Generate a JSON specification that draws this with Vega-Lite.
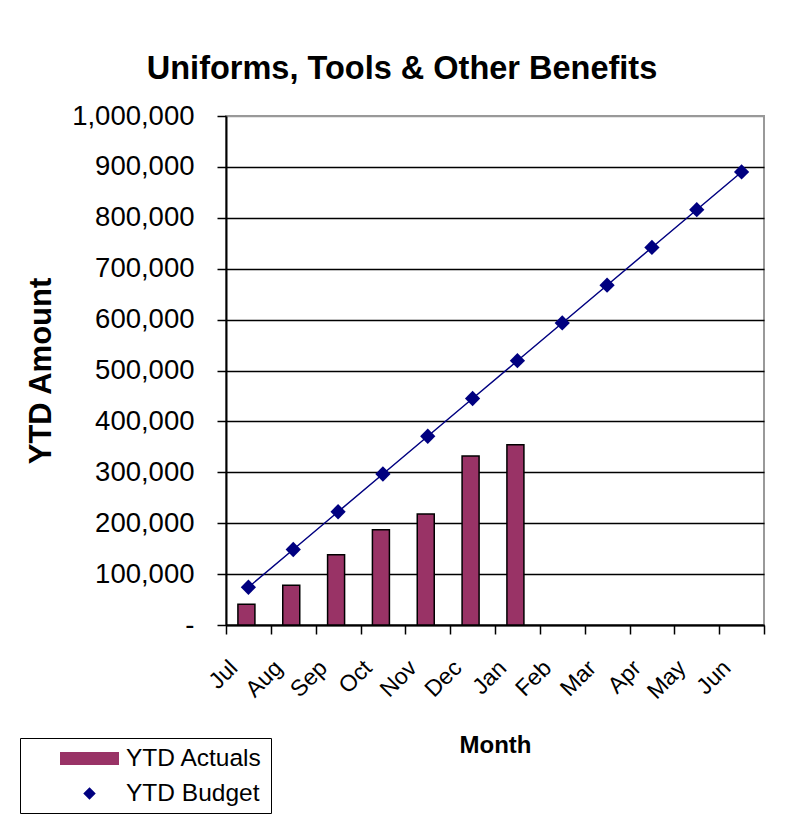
{
  "$schema": "https://vega.github.io/schema/vega-lite/v6.json",
  "width": 538,
  "height": 509,
  "autosize": "none",
  "padding": {"left": 226, "top": 116, "right": 21, "bottom": 194},
  "background": "white",
  "config": {
    "font": "Liberation Sans",
    "view": {"stroke": "#999999", "strokeWidth": 2},
    "axis": {"labelColor": "black", "titleColor": "black", "labelFont": "Liberation Sans", "titleFont": "Liberation Sans"},
    "legend": {
      "orient": "none",
      "legendX": -206,
      "legendY": 622,
      "strokeColor": "black",
      "fillColor": "white",
      "padding": 8,
      "symbolOffset": 49,
      "labelOffset": 24,
      "labelFontSize": 24.5,
      "labelFont": "Liberation Sans",
      "labelColor": "black",
      "rowPadding": 10,
      "symbolSize": 529,
      "symbolStrokeWidth": 1.5,
      "symbolOpacity": 1
    }
  },
  "title": {
    "text": "Uniforms, Tools & Other Benefits",
    "font": "Liberation Sans",
    "fontSize": 32.5,
    "fontWeight": "bold",
    "color": "black",
    "anchor": "middle",
    "frame": "group",
    "dx": -93,
    "offset": 17
  },
  "data": {
    "values": [
      {"month": "Jul", "actual": 41000, "budget": 74167},
      {"month": "Aug", "actual": 78000, "budget": 148333},
      {"month": "Sep", "actual": 138000, "budget": 222500},
      {"month": "Oct", "actual": 187000, "budget": 296667},
      {"month": "Nov", "actual": 218000, "budget": 370833},
      {"month": "Dec", "actual": 332000, "budget": 445000},
      {"month": "Jan", "actual": 354000, "budget": 519167},
      {"month": "Feb", "actual": null, "budget": 593333},
      {"month": "Mar", "actual": null, "budget": 667500},
      {"month": "Apr", "actual": null, "budget": 741667},
      {"month": "May", "actual": null, "budget": 815833},
      {"month": "Jun", "actual": null, "budget": 890000}
    ]
  },
  "encoding": {
    "x": {
      "field": "month",
      "type": "ordinal",
      "sort": ["Jul", "Aug", "Sep", "Oct", "Nov", "Dec", "Jan", "Feb", "Mar", "Apr", "May", "Jun"],
      "scale": {"paddingInner": 0, "paddingOuter": 0},
      "axis": {
        "title": "Month",
        "titleFontSize": 24,
        "titleFontWeight": "bold",
        "titlePadding": 30,
        "labelAngle": -45,
        "labelAlign": "right",
        "labelBaseline": "middle",
        "labelFontSize": 23,
        "labelPadding": 30,
        "labelOffset": -15,
        "tickBand": "extent",
        "tickSize": 9,
        "tickWidth": 1.5,
        "tickColor": "black",
        "domainColor": "black",
        "domainWidth": 2,
        "grid": false
      }
    }
  },
  "layer": [
    {
      "mark": {"type": "bar", "width": 17, "xOffset": -2, "stroke": "black", "strokeWidth": 1.5},
      "encoding": {
        "y": {
          "field": "actual",
          "type": "quantitative",
          "scale": {"domain": [0, 1000000]},
          "axis": {
            "title": "YTD Amount",
            "titleFontSize": 31,
            "titleFontWeight": "bold",
            "titlePadding": 14,
            "values": [0, 100000, 200000, 300000, 400000, 500000, 600000, 700000, 800000, 900000, 1000000],
            "labelExpr": "datum.value == 0 ? '-\u00a0\u00a0\u00a0\u00a0' : format(datum.value, ',')",
            "labelFontSize": 27.5,
            "labelPadding": 23,
            "tickSize": 9,
            "tickWidth": 1.5,
            "tickColor": "black",
            "domainColor": "black",
            "domainWidth": 2,
            "grid": true,
            "gridColor": {"condition": {"test": "datum.value >= 1000000", "value": "#999999"}, "value": "black"},
            "gridWidth": 1.5,
            "gridOpacity": 1
          }
        },
        "color": {
          "datum": "YTD Actuals",
          "type": "nominal",
          "scale": {"domain": ["YTD Actuals", "YTD Budget"], "range": ["#993366", "#000080"]},
          "legend": {"title": null}
        }
      }
    },
    {
      "mark": {"type": "line", "strokeWidth": 1.5, "point": {"size": 1150, "filled": true, "opacity": 1}},
      "encoding": {
        "y": {"field": "budget", "type": "quantitative"},
        "color": {"datum": "YTD Budget", "type": "nominal"},
        "shape": {
          "datum": "YTD Budget",
          "type": "nominal",
          "scale": {"domain": ["YTD Actuals", "YTD Budget"], "range": ["M-2.5,-0.5H2.5V0.5H-2.5Z", "M0,-0.45L0.45,0L0,0.45L-0.45,0Z"]},
          "legend": {"title": null}
        }
      }
    }
  ]
}
